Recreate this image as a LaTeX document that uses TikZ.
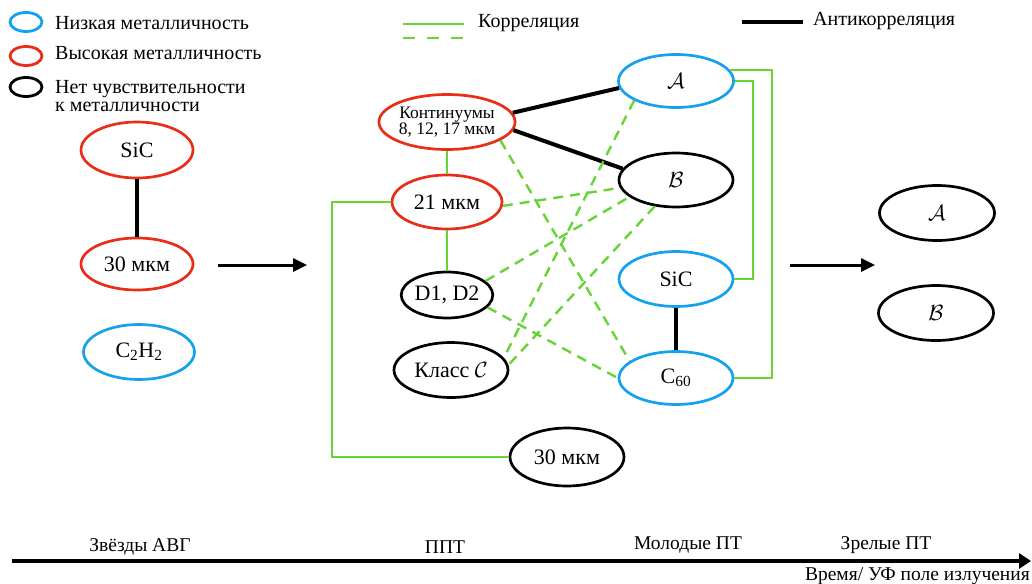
\RequirePackage{fix-cm}
\documentclass[tikz,border=0pt]{standalone}
\usepackage{fontspec}
\setmainfont{Liberation Serif}
\usetikzlibrary{shapes.geometric,arrows.meta,calc}
\definecolor{lowZ}{RGB}{20,162,240}
\definecolor{highZ}{RGB}{232,45,25}
\definecolor{corr}{RGB}{102,212,52}
\begin{document}
\begin{tikzpicture}[x=1pt,y=-1pt,
  oval/.style={ellipse, draw, line width=2.7pt, inner sep=0pt,
    font=\fontsize{22}{24}\selectfont},
  lowbox/.style={oval, draw=lowZ},
  highbox/.style={oval, draw=highZ},
  neutral/.style={oval, draw=black},
  legoval/.style={ellipse, draw, line width=2.8pt, inner sep=0pt,
    minimum width=32pt, minimum height=19pt},
  legtext/.style={anchor=west, inner sep=0pt, font=\fontsize{20}{18}\selectfont},
  corrline/.style={draw=corr, line width=2pt},
  corrdash/.style={draw=corr, line width=2.4pt, dash pattern=on 10pt off 7pt},
  anticorr/.style={draw=black, line width=4pt},
  stagearrow/.style={line width=3pt, -{Triangle[length=14pt,width=13pt]}},
  stagelabel/.style={inner sep=0pt, font=\fontsize{19.5}{20}\selectfont}
]
\useasboundingbox (0,0) rectangle (1032,583);

% legend: metallicity colours
\node[legoval, draw=lowZ] (lgLow) at (26,22) {};
\node[legoval, draw=highZ] (lgHigh) at (26,56) {};
\node[legoval, draw=black] (lgNone) at (26,87) {};
\node[legtext] (tLow) at (55,23) {Низкая металличность};
\node[legtext] (tHigh) at (55,53) {Высокая металличность};
\node[legtext, align=left, font=\fontsize{20}{18}\selectfont] (tNone) at (55,96)
  {Нет чувствительности\\к металличности};

% legend: line styles
\coordinate (lc0) at (403,24); \coordinate (lc1) at (464,24);
\coordinate (ld0) at (403,38); \coordinate (ld1) at (464,38);
\draw[corrline] (lc0) -- (lc1);
\draw[corrdash, dash pattern=on 12pt off 12pt] (ld0) -- (ld1);
\node[legtext] (tCorr) at (478,23) {Корреляция};
\coordinate (la0) at (742,22); \coordinate (la1) at (803,22);
\draw[anticorr] (la0) -- (la1);
\node[legtext] (tAnti) at (813,21) {Антикорреляция};

% AGB stars
\node[highbox, minimum width=112pt, minimum height=56pt] (sicL) at (137,150) {SiC};
\node[highbox, minimum width=112pt, minimum height=52pt] (m30L) at (137,264) {30 мкм};
\node[lowbox, minimum width=111pt, minimum height=55pt] (c2h2) at (139,352) {C\textsubscript{2}H\textsubscript{2}};
\draw[anticorr] (sicL.south) -- (m30L.north);

% PPN
\node[highbox, minimum width=122pt, minimum height=55pt, align=center,
  font=\fontsize{17.5}{15}\selectfont] (cont) at (447,122) {Континуумы\\8, 12, 17 мкм};
\node[highbox, minimum width=110pt, minimum height=54pt] (m21) at (447,202) {21 мкм};
\node[neutral, minimum width=82pt, minimum height=46pt] (dd) at (447,295) {D1, D2};
\node[neutral, minimum width=114pt, minimum height=55pt] (klass) at (451,370) {Класс $\mathcal{C}$};
\node[neutral, minimum width=114pt, minimum height=58pt] (m30) at (567,457) {30 мкм};

% young PN
\node[lowbox, minimum width=115pt, minimum height=53pt] (A) at (676,81) {$\mathcal{A}$};
\node[neutral, minimum width=114pt, minimum height=54pt] (B) at (676,180) {$\mathcal{B}$};
\node[lowbox, minimum width=114pt, minimum height=55pt] (sicR) at (676,279) {SiC};
\node[lowbox, minimum width=114pt, minimum height=53pt] (c60) at (676,378) {C\textsubscript{60}};

% mature PN
\node[neutral, minimum width=115pt, minimum height=55pt] (A2) at (937,213) {$\mathcal{A}$};
\node[neutral, minimum width=115pt, minimum height=55pt] (B2) at (936,313) {$\mathcal{B}$};

% evolution arrows
\coordinate (ar1s) at (218,265); \coordinate (ar1e) at (307,265);
\coordinate (ar2s) at (790,265); \coordinate (ar2e) at (875,265);
\draw[stagearrow] (ar1s) -- (ar1e);
\draw[stagearrow] (ar2s) -- (ar2e);

% solid correlations
\draw[corrline] (cont.south) -- (m21.north);
\draw[corrline] (m21.south) -- (dd.north);
\coordinate (xl) at (332,0);
\draw[corrline] (m21.west) -- (m21.west -| xl) |- (m30.west);
\coordinate (xr1) at (753,0);
\coordinate (xr2) at (772,0);
\draw[corrline] (A.east) -- (A.east -| xr1) |- (sicR.east);
\draw[corrline] (A.11) -- (A.11 -| xr2) |- (c60.east);

% anticorrelations
\draw[anticorr] (cont.8) -- (A.187);
\draw[anticorr] (cont.-7) -- (B.168);
\draw[anticorr] (sicR.south) -- (c60.north);

% dashed correlations
\draw[corrdash] (A.205) -- (klass.13);
\draw[corrdash] (B.231) -- (klass.5);
\draw[corrdash] (m21.-4) -- (B.188);
\draw[corrdash] (dd.20) -- (B.200);
\draw[corrdash] (cont.-19) -- (c60.160);
\draw[corrdash] (dd.-17) -- (c60.west);

% time axis
\coordinate (ax0) at (12,561); \coordinate (ax1) at (1031,561);
\draw[line width=4pt, -{Triangle[length=12pt,width=15pt]}] (ax0) -- (ax1);
\node[stagelabel] (sAGB) at (140,547) {Звёзды АВГ};
\node[stagelabel] (sPPN) at (445,547) {ППТ};
\node[stagelabel] (sYPN) at (688,545) {Молодые ПТ};
\node[stagelabel] (sMPN) at (886,545) {Зрелые ПТ};
\node[stagelabel, anchor=east] (sAxis) at (1030,576) {Время/ УФ поле излучения};
\end{tikzpicture}
\end{document}
